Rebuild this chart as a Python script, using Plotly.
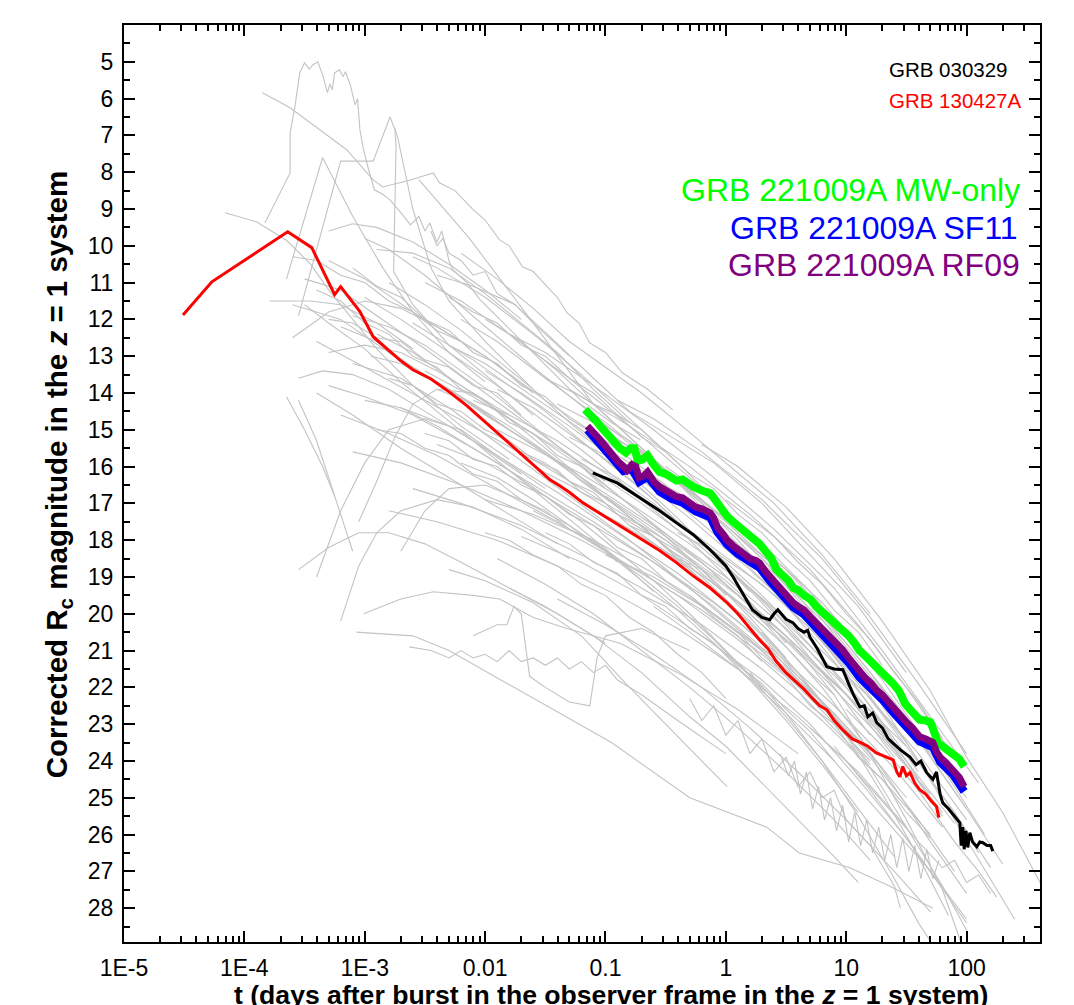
import plotly.graph_objects as go

# ---------------- data: (log10 t [days], corrected Rc magnitude) ----------------
grb130427a = [(-4.51, 11.88), (-4.27, 10.98), (-3.64, 9.62), (-3.44, 10.05), (-3.25, 11.33), (-3.2, 11.11),
              (-3.04, 11.79), (-2.93, 12.47), (-2.71, 13.1), (-2.6, 13.37), (-2.45, 13.62), (-2.29, 13.99),
              (-2.15, 14.35), (-2.02, 14.73), (-1.88, 15.12), (-1.74, 15.54), (-1.6, 15.95), (-1.46, 16.36),
              (-1.38, 16.52), (-1.3, 16.7), (-1.19, 16.98), (-1.08, 17.2), (-0.96, 17.45), (-0.82, 17.72),
              (-0.7, 17.98), (-0.55, 18.28), (-0.41, 18.61), (-0.28, 18.95), (-0.13, 19.3), (0.01, 19.7),
              (0.1, 20.0), (0.2, 20.4), (0.28, 20.71), (0.35, 20.95), (0.42, 21.3), (0.5, 21.6), (0.56, 21.79),
              (0.65, 22.05), (0.72, 22.3), (0.78, 22.5), (0.84, 22.61), (0.9, 22.9), (0.97, 23.15), (1.05, 23.4),
              (1.12, 23.5), (1.18, 23.6), (1.25, 23.78), (1.3, 23.85), (1.39, 23.97), (1.42, 24.3), (1.445, 24.43),
              (1.47, 24.15), (1.5, 24.4), (1.53, 24.32), (1.57, 24.6), (1.61, 24.78), (1.66, 24.9), (1.71, 25.1),
              (1.75, 25.24), (1.77, 25.54)]

grb030329 = [(-1.105, 16.17), (-0.9, 16.45), (-0.69, 16.9), (-0.55, 17.2), (-0.41, 17.53), (-0.27, 17.85),
             (-0.13, 18.26), (0.0, 18.7), (0.06, 19.0), (0.15, 19.5), (0.22, 19.89), (0.3, 20.1), (0.365, 20.16),
             (0.4, 20.0), (0.432, 19.89), (0.5, 20.15), (0.557, 20.24), (0.6, 20.4), (0.65, 20.5), (0.68, 20.45),
             (0.698, 20.63), (0.76, 20.95), (0.8, 21.2), (0.839, 21.44), (0.9, 21.5), (0.972, 21.52), (1.02, 21.9),
             (1.06, 22.2), (1.113, 22.53), (1.15, 22.5), (1.18, 22.8), (1.22, 22.7), (1.254, 22.96), (1.3, 23.1),
             (1.35, 23.4), (1.387, 23.51), (1.45, 23.7), (1.528, 23.89), (1.58, 24.1), (1.62, 24.0), (1.669, 24.32),
             (1.72, 24.5), (1.75, 24.3), (1.78, 24.9), (1.802, 25.14), (1.85, 25.3), (1.9, 25.5), (1.944, 25.68),
             (1.955, 26.3), (1.968, 25.8), (1.98, 26.4), (1.995, 25.9), (2.01, 26.35), (2.027, 25.95), (2.05, 26.2),
             (2.085, 26.33), (2.11, 26.2), (2.135, 26.22), (2.17, 26.3), (2.2, 26.3), (2.218, 26.45)]

grb221009a_mw = [(-1.17, 14.45), (-1.12, 14.6), (-1.08, 14.75), (-1.03, 14.95), (-0.98, 15.15), (-0.93, 15.3),
                 (-0.88, 15.5), (-0.83, 15.62), (-0.79, 15.5), (-0.76, 15.5), (-0.73, 15.85), (-0.69, 15.8),
                 (-0.65, 15.7), (-0.6, 15.95), (-0.55, 16.15), (-0.5, 16.2), (-0.45, 16.3), (-0.41, 16.38),
                 (-0.36, 16.35), (-0.31, 16.5), (-0.27, 16.55), (-0.2, 16.65), (-0.13, 16.72), (-0.1, 16.85),
                 (-0.07, 17.0), (-0.02, 17.2), (0.01, 17.35), (0.06, 17.5), (0.1, 17.6), (0.14, 17.72), (0.2, 17.9),
                 (0.24, 17.95), (0.28, 18.1), (0.33, 18.3), (0.38, 18.5), (0.42, 18.8), (0.47, 18.95), (0.52, 19.1),
                 (0.56, 19.3), (0.6, 19.35), (0.65, 19.5), (0.7, 19.6), (0.75, 19.8), (0.8, 19.95), (0.84, 20.1),
                 (0.88, 20.2), (0.93, 20.3), (0.97, 20.45), (1.02, 20.6), (1.07, 20.8), (1.11, 21.0), (1.16, 21.15),
                 (1.21, 21.3), (1.25, 21.45), (1.3, 21.6), (1.35, 21.75), (1.39, 21.9), (1.44, 22.1), (1.49, 22.45),
                 (1.53, 22.6), (1.57, 22.75), (1.61, 22.88), (1.66, 22.9), (1.7, 22.95), (1.73, 23.2), (1.76, 23.5),
                 (1.8, 23.6), (1.85, 23.7), (1.9, 23.85), (1.94, 23.95), (1.98, 24.15)]

grb221009a_sf11 = [(-1.15, 15.0), (-1.05, 15.38), (-0.96, 15.75), (-0.85, 16.12), (-0.78, 16.07), (-0.72, 16.42),
                   (-0.65, 16.28), (-0.55, 16.68), (-0.45, 16.88), (-0.36, 16.98), (-0.25, 17.22), (-0.13, 17.38),
                   (-0.07, 17.78), (0.01, 18.12), (0.1, 18.38), (0.2, 18.62), (0.28, 18.75), (0.37, 19.13),
                   (0.47, 19.52), (0.56, 19.82), (0.65, 20.02), (0.75, 20.38), (0.84, 20.65), (0.93, 20.98),
                   (1.02, 21.33), (1.11, 21.73), (1.21, 22.03), (1.3, 22.33), (1.39, 22.68), (1.5, 23.08),
                   (1.61, 23.47), (1.72, 23.63), (1.78, 24.03), (1.89, 24.38), (1.98, 24.83)]

grb221009a_rf09 = [(-1.15, 14.9), (-1.1, 15.05), (-1.05, 15.25), (-1.0, 15.45), (-0.96, 15.63), (-0.9, 15.85),
                   (-0.85, 16.0), (-0.82, 16.1), (-0.78, 15.95), (-0.75, 16.0), (-0.72, 16.3), (-0.68, 16.25),
                   (-0.65, 16.15), (-0.6, 16.4), (-0.55, 16.55), (-0.5, 16.65), (-0.45, 16.75), (-0.41, 16.82),
                   (-0.36, 16.85), (-0.3, 17.0), (-0.25, 17.1), (-0.2, 17.15), (-0.13, 17.26), (-0.1, 17.4),
                   (-0.07, 17.65), (-0.02, 17.85), (0.01, 18.0), (0.06, 18.15), (0.1, 18.25), (0.14, 18.34),
                   (0.2, 18.5), (0.25, 18.55), (0.28, 18.62), (0.33, 18.85), (0.37, 19.0), (0.42, 19.2), (0.47, 19.4),
                   (0.52, 19.55), (0.56, 19.7), (0.6, 19.8), (0.65, 19.9), (0.7, 20.08), (0.75, 20.25), (0.8, 20.4),
                   (0.84, 20.52), (0.88, 20.65), (0.93, 20.85), (0.97, 20.98), (1.02, 21.2), (1.07, 21.4),
                   (1.11, 21.6), (1.16, 21.75), (1.21, 21.9), (1.25, 22.07), (1.3, 22.2), (1.35, 22.4), (1.39, 22.55),
                   (1.44, 22.7), (1.5, 22.95), (1.55, 23.1), (1.61, 23.34), (1.66, 23.4), (1.72, 23.5), (1.75, 23.75),
                   (1.78, 23.9), (1.83, 24.05), (1.89, 24.25), (1.94, 24.45), (1.98, 24.7)]

# ---------------- comparison sample (grey) ----------------
gray_bump = [(-3.83, 9.38), (-3.62, 8.02), (-3.62, 6.93), (-3.58, 6.22), (-3.54, 5.3), (-3.5, 5.03), (-3.46, 5.2),
             (-3.43, 5.08), (-3.39, 5.0), (-3.35, 5.35), (-3.31, 5.84), (-3.29, 5.6), (-3.27, 5.76), (-3.25, 5.3),
             (-3.21, 5.22), (-3.18, 5.4), (-3.16, 5.27), (-3.12, 5.63), (-3.08, 6.17), (-3.06, 6.0), (-3.04, 6.85),
             (-3.01, 7.39), (-2.97, 7.9), (-2.92, 8.48), (-2.85, 8.6), (-2.79, 8.75), (-2.7, 9.1), (-2.62, 9.43),
             (-2.55, 9.2), (-2.5, 9.6), (-2.46, 9.38), (-2.4, 9.9), (-2.36, 9.6), (-2.33, 9.97), (-2.3, 10.4),
             (-2.27, 10.65), (-2.15, 11.0), (-2.04, 11.47), (-1.88, 12.0), (-1.71, 12.55), (-1.45, 13.4),
             (-1.21, 14.18), (-0.95, 14.8), (-0.71, 15.27)]
gray_top = [(-3.85, 5.84), (-3.62, 6.25), (-3.43, 6.71), (-3.15, 7.39), (-2.93, 8.21), (-2.85, 8.4), (-2.62, 8.21),
            (-2.43, 8.02), (-2.38, 8.29), (-2.25, 8.5), (-2.1, 9.02), (-2.0, 9.3), (-1.88, 9.84), (-1.8, 10.0),
            (-1.69, 10.57), (-1.6, 10.7), (-1.46, 11.2), (-1.4, 11.4), (-1.32, 11.82), (-1.22, 12.1),
            (-1.13, 12.64), (-1.0, 12.9), (-0.86, 13.45), (-0.65, 13.9), (-0.44, 14.46)]
gray_arch = [(-4.16, 9.1), (-3.9, 9.35), (-3.65, 9.85), (-3.45, 10.5), (-3.3, 11.2), (-3.1, 12.0), (-2.9, 12.8),
             (-2.6, 13.8), (-2.2, 14.9), (-1.8, 15.8)]
gray_tri1 = [(-3.65, 10.9), (-3.35, 7.6), (-3.1, 9.2), (-2.85, 10.6), (-2.6, 11.8), (-2.3, 12.9), (-2.0, 13.7)]
gray_tri2 = [(-3.55, 11.9), (-3.2, 7.7), (-2.93, 7.7), (-2.79, 6.5), (-2.73, 7.0), (-2.6, 9.0), (-2.45, 10.6),
             (-2.3, 11.5), (-2.0, 12.6), (-1.6, 13.9)]
gray_vert = [(-2.75, 6.8), (-2.74, 7.3), (-2.76, 10.7), (-2.6, 11.6), (-2.3, 12.7), (-2.0, 13.5), (-1.6, 14.6)]
gray_line = [(-2.55, 8.2), (-2.13, 9.8), (-1.6, 12.1), (-1.1, 14.3), (-0.6, 15.8), (-0.2, 16.9)]
gray_up1 = [(-2.4, 10.8), (-2.1, 11.1), (-1.75, 11.6), (-1.45, 12.5), (-1.1, 13.6), (-0.8, 14.5), (-0.45, 15.2),
            (-0.1, 15.9), (0.3, 17.0), (0.7, 18.4), (1.1, 19.8), (1.5, 21.6)]
gray_up2 = [(-2.2, 10.2), (-1.9, 10.9), (-1.6, 11.7), (-1.3, 12.6), (-1.0, 13.3), (-0.7, 14.0), (-0.4, 14.8),
            (0.0, 15.9), (0.4, 17.0), (0.8, 18.4), (1.2, 20.0)]
gray_01 = [(-3.6, 11.6), (-3.2, 12.0), (-2.8, 12.9), (-2.3, 13.9), (-1.8, 15.0), (-1.2, 16.3), (-0.6, 17.6),
           (0.0, 19.0), (0.5, 20.4), (1.0, 22.0), (1.5, 23.6)]
gray_02 = [(-3.3, 10.4), (-3.0, 10.9), (-2.6, 11.8), (-2.0, 13.0), (-1.5, 14.2), (-1.0, 15.3), (-0.5, 16.5),
           (0.0, 17.8), (0.4, 19.0), (0.8, 20.5), (1.2, 22.1)]
gray_03 = [(-3.0, 9.8), (-2.8, 10.1), (-2.5, 10.8), (-2.1, 11.9), (-1.6, 13.3), (-1.1, 14.6), (-0.6, 15.9),
           (-0.2, 17.0), (0.3, 18.5), (0.7, 20.0)]
gray_04 = [(-2.9, 12.4), (-2.6, 12.9), (-2.2, 13.8), (-1.7, 14.9), (-1.2, 16.0), (-0.7, 17.3), (-0.2, 18.6),
           (0.3, 20.1), (0.8, 21.7), (1.3, 23.4), (1.7, 24.9)]
gray_05 = [(-3.1, 13.2), (-2.7, 13.6), (-2.3, 14.4), (-1.8, 15.6), (-1.3, 16.8), (-0.8, 18.0), (-0.3, 19.3),
           (0.2, 20.7), (0.7, 22.3), (1.2, 24.0)]
gray_06 = [(-2.5, 11.0), (-2.2, 11.5), (-1.8, 12.4), (-1.3, 13.6), (-0.8, 14.9), (-0.3, 16.3), (0.2, 17.8),
           (0.6, 19.3), (1.0, 21.0), (1.4, 22.8)]
gray_07 = [(-2.2, 12.0), (-1.9, 12.6), (-1.5, 13.6), (-1.0, 14.8), (-0.5, 16.1), (0.0, 17.5), (0.5, 19.0),
           (1.0, 20.8), (1.5, 22.8), (1.9, 24.5)]
gray_08 = [(-2.0, 13.4), (-1.7, 14.0), (-1.3, 14.9), (-0.8, 16.1), (-0.3, 17.4), (0.2, 18.8), (0.7, 20.3),
           (1.2, 22.0), (1.6, 23.6)]
gray_09 = [(-3.4, 12.6), (-3.0, 13.3), (-2.5, 14.2), (-2.0, 15.1), (-1.5, 16.0), (-1.0, 17.0), (-0.5, 18.0),
           (0.0, 19.2), (0.5, 20.6), (1.0, 22.2), (1.4, 23.7)]
gray_10 = [(-2.7, 14.4), (-2.3, 14.9), (-1.9, 15.7), (-1.4, 16.7), (-0.9, 17.8), (-0.4, 18.9), (0.1, 20.2),
           (0.6, 21.7), (1.1, 23.4), (1.5, 25.0)]
gray_11 = [(-1.8, 12.4), (-1.5, 12.9), (-1.1, 13.8), (-0.6, 15.0), (-0.1, 16.3), (0.4, 17.7), (0.9, 19.3),
           (1.3, 21.0), (1.7, 22.8), (2.1, 24.6)]
gray_12 = [(-1.5, 13.6), (-1.2, 14.1), (-0.8, 14.9), (-0.3, 16.0), (0.2, 17.3), (0.7, 18.8), (1.1, 20.3),
           (1.5, 22.0), (1.9, 23.9)]
gray_13 = [(-2.4, 15.4), (-2.0, 15.9), (-1.6, 16.6), (-1.1, 17.6), (-0.6, 18.6), (-0.1, 19.7), (0.4, 21.0),
           (0.9, 22.5), (1.4, 24.2), (1.8, 25.8)]
gray_14 = [(-3.2, 14.6), (-2.8, 15.1), (-2.4, 15.7), (-1.9, 16.6), (-1.4, 17.5), (-0.9, 18.5), (-0.4, 19.5),
           (0.1, 20.7), (0.6, 22.1), (1.1, 23.8)]
gray_15 = [(-1.3, 15.2), (-1.0, 15.7), (-0.6, 16.5), (-0.1, 17.6), (0.4, 18.9), (0.9, 20.5), (1.3, 22.1),
           (1.7, 23.9), (2.0, 25.3)]
gray_16 = [(-0.9, 14.2), (-0.6, 14.7), (-0.2, 15.6), (0.3, 16.9), (0.8, 18.5), (1.2, 20.1), (1.6, 21.9),
           (2.0, 23.8)]
gray_17 = [(-2.6, 16.6), (-2.2, 17.0), (-1.7, 17.6), (-1.2, 18.4), (-0.7, 19.3), (-0.2, 20.3), (0.3, 21.5),
           (0.8, 22.9), (1.3, 24.5), (1.7, 26.0)]
gray_18 = [(-3.0, 11.4), (-2.7, 12.0), (-2.3, 12.9), (-1.9, 13.8), (-1.5, 14.8), (-1.1, 15.8), (-0.7, 16.9),
           (-0.3, 18.0), (0.1, 19.3), (0.5, 20.8)]
gray_19 = [(-2.1, 14.2), (-1.8, 14.6), (-1.4, 15.3), (-0.9, 16.4), (-0.4, 17.5), (0.1, 18.7), (0.6, 20.0),
           (1.1, 21.6), (1.6, 23.4), (2.0, 25.0)]
gray_20 = [(-1.6, 16.0), (-1.3, 16.5), (-0.9, 17.3), (-0.4, 18.3), (0.1, 19.5), (0.6, 20.9), (1.1, 22.5),
           (1.5, 24.0), (1.9, 25.7)]
gray_21 = [(-3.5, 10.9), (-3.2, 11.2), (-2.9, 11.9), (-2.5, 12.8), (-2.0, 14.0), (-1.5, 15.2), (-1.0, 16.4)]
gray_22 = [(-3.3, 13.8), (-3.0, 14.1), (-2.6, 14.6), (-2.1, 15.5), (-1.6, 16.5), (-1.1, 17.5), (-0.6, 18.6),
           (-0.1, 19.8), (0.4, 21.2)]
gray_23 = [(-2.3, 12.7), (-2.0, 13.2), (-1.6, 14.1), (-1.2, 15.0), (-0.8, 16.0), (-0.4, 17.0), (0.0, 18.1),
           (0.4, 19.4), (0.8, 20.9), (1.2, 22.5), (1.6, 24.3)]
gray_24 = [(-1.9, 15.0), (-1.6, 15.5), (-1.2, 16.2), (-0.8, 17.0), (-0.3, 18.1), (0.2, 19.3), (0.7, 20.7),
           (1.2, 22.3), (1.6, 23.8), (2.0, 25.6)]
gray_25 = [(-1.2, 17.0), (-0.9, 17.5), (-0.5, 18.3), (0.0, 19.4), (0.5, 20.7), (1.0, 22.2), (1.4, 23.7),
           (1.8, 25.4)]
gray_26 = [(-2.8, 17.2), (-2.4, 17.5), (-1.9, 18.0), (-1.4, 18.7), (-0.9, 19.5), (-0.4, 20.4), (0.1, 21.5),
           (0.6, 22.8), (1.1, 24.3), (1.5, 25.8)]
gray_27 = [(-0.7, 16.2), (-0.4, 16.7), (0.0, 17.6), (0.4, 18.7), (0.8, 20.0), (1.2, 21.6), (1.6, 23.4),
           (2.0, 25.3), (2.3, 26.8)]
gray_28 = [(-1.4, 14.3), (-1.1, 14.8), (-0.7, 15.7), (-0.2, 16.9), (0.3, 18.2), (0.8, 19.7), (1.2, 21.2),
           (1.6, 22.9)]
gray_29 = [(-2.5, 13.4), (-2.1, 14.1), (-1.7, 14.9), (-1.2, 15.9), (-0.7, 17.0), (-0.2, 18.2), (0.3, 19.6),
           (0.8, 21.2), (1.3, 23.0)]
gray_30 = [(-3.1, 15.6), (-2.7, 15.9), (-2.2, 16.5), (-1.7, 17.2), (-1.2, 18.0), (-0.7, 18.9), (-0.2, 19.9),
           (0.3, 21.1), (0.8, 22.5), (1.2, 23.8)]
gray_31 = [(-0.4, 17.8), (-0.1, 18.3), (0.3, 19.2), (0.7, 20.4), (1.1, 21.9), (1.5, 23.6), (1.9, 25.4),
           (2.2, 26.9)]
gray_32 = [(-1.0, 18.4), (-0.6, 19.0), (-0.2, 19.8), (0.3, 21.0), (0.8, 22.4), (1.2, 23.9), (1.6, 25.6),
           (1.9, 27.0)]
gray_33 = [(-2.0, 16.9), (-1.6, 17.3), (-1.1, 18.0), (-0.6, 18.9), (-0.1, 20.0), (0.4, 21.2), (0.9, 22.7),
           (1.3, 24.2)]
gray_34 = [(-3.4, 14.0), (-3.1, 14.6), (-2.7, 15.5), (-2.3, 16.3), (-1.9, 17.1), (-1.4, 18.1)]
gray_35 = [(-2.6, 10.3), (-2.4, 10.6), (-2.0, 11.4), (-1.6, 12.4), (-1.2, 13.5), (-0.8, 14.7), (-0.4, 15.9),
           (0.0, 17.2), (0.4, 18.6)]
gray_36 = [(-0.2, 15.4), (0.1, 16.0), (0.5, 17.1), (0.9, 18.5), (1.3, 20.2), (1.7, 22.1), (2.0, 23.9),
           (2.3, 25.4), (2.61, 27.3)]
gray_37 = [(-1.0, 16.8), (-0.5, 17.9), (0.0, 19.1), (0.5, 20.6), (0.9, 22.2), (1.2, 23.8), (1.5, 25.6),
           (1.8, 27.5), (1.95, 28.9)]
gray_38 = [(-0.8, 17.6), (-0.3, 18.8), (0.2, 20.2), (0.6, 21.6), (1.0, 23.3), (1.3, 24.9), (1.6, 26.6),
           (1.85, 28.2)]
gray_39 = [(-1.7, 17.9), (-1.2, 18.6), (-0.7, 19.5), (-0.2, 20.6), (0.3, 21.8), (0.7, 23.0), (1.1, 24.5),
           (1.5, 26.1), (1.7, 27.0)]
gray_40 = [(-1.9, 18.5), (-1.5, 19.2), (-1.1, 20.0), (-0.7, 21.0), (-0.3, 22.0), (0.1, 23.1), (0.5, 24.3),
           (0.9, 25.6), (1.2, 26.7)]
gray_41 = [(-1.4, 19.6), (-1.0, 20.3), (-0.6, 21.1), (-0.2, 22.0), (0.2, 23.1), (0.6, 24.3), (1.0, 25.6),
           (1.4, 27.0), (1.7, 28.1)]
gray_42 = [(-0.6, 19.8), (-0.3, 20.5), (0.1, 21.5), (0.5, 22.7), (0.9, 24.0), (1.3, 25.5), (1.7, 27.0),
           (2.0, 28.3)]
gray_43 = [(-2.3, 18.8), (-2.0, 19.1), (-1.6, 19.7), (-1.2, 20.6), (-0.83, 21.9), (-0.5, 23.0), (-0.2, 24.0),
           (0.01, 24.7)]
gray_44 = [(-1.8, 19.3), (-1.5, 19.8), (-1.1, 20.6), (-0.7, 21.6), (-0.3, 22.8), (0.0, 23.6), (0.3, 24.6),
           (0.6, 25.6), (0.9, 26.6), (1.1, 27.3)]
gray_45 = [(-0.3, 22.3), (-0.2, 22.9), (-0.1, 22.5), (0.0, 23.3), (0.1, 22.9), (0.2, 23.8), (0.3, 23.4),
           (0.4, 24.3), (0.5, 23.9), (0.6, 24.7), (0.7, 24.3), (0.8, 25.0), (0.9, 24.8), (1.0, 25.6), (1.2, 26.3),
           (1.4, 27.4), (1.45, 28.0)]
gray_46 = [(0.2, 21.6), (0.5, 22.7), (0.8, 24.0), (1.1, 25.5), (1.4, 27.2), (1.6, 28.4), (1.7, 28.9)]
gray_47 = [(0.9, 23.6), (1.2, 24.8), (1.5, 26.1), (1.8, 27.5), (2.0, 28.4)]
gray_48 = [(1.0, 22.6), (1.3, 23.6), (1.6, 24.8), (1.9, 26.2), (2.1, 27.0), (2.25, 27.7)]
gray_49 = [(0.7, 23.1), (1.0, 24.0), (1.3, 25.1), (1.6, 26.2), (1.8, 26.9), (1.9, 26.7), (2.0, 27.3),
           (2.1, 27.1), (2.2, 27.6)]
gray_50 = [(0.3, 20.5), (0.6, 21.6), (0.9, 22.8), (1.2, 24.2), (1.5, 25.8), (1.8, 27.4), (2.0, 28.6)]
gray_51 = [(-3.79, 11.5), (-3.45, 11.5), (-3.2, 11.6), (-2.9, 12.1), (-2.6, 12.8)]
gray_52 = [(-3.55, 13.6), (-3.35, 13.4), (-3.1, 13.5), (-2.8, 13.9), (-2.5, 14.5), (-2.1, 15.3), (-1.7, 16.2)]
gray_53 = [(-3.65, 14.1), (-3.5, 15.0), (-3.35, 16.0), (-3.25, 16.8)]
gray_54 = [(-3.55, 14.2), (-3.4, 15.3), (-3.25, 16.8), (-3.1, 18.3)]
gray_55 = [(-3.4, 19.0), (-3.2, 17.2), (-3.0, 15.9), (-2.8, 15.0), (-2.5, 14.7), (-2.2, 15.0), (-1.9, 15.7),
           (-1.5, 16.6)]
gray_56 = [(-3.2, 20.2), (-3.05, 18.7), (-2.9, 17.8), (-2.7, 17.2), (-2.4, 16.9), (-2.1, 17.1), (-1.7, 17.7),
           (-1.3, 18.5)]
gray_57 = [(-3.05, 17.5), (-2.9, 16.4), (-2.75, 15.2), (-2.6, 14.3), (-2.4, 13.9), (-2.1, 14.0), (-1.8, 14.6)]
gray_58 = [(-2.7, 18.3), (-2.5, 17.2), (-2.3, 16.6), (-2.0, 16.5), (-1.7, 16.9), (-1.3, 17.6), (-0.9, 18.5)]
gray_59 = [(-3.3, 9.6), (-3.1, 9.4), (-2.9, 9.5), (-2.6, 9.9), (-2.3, 10.5), (-2.0, 11.2), (-1.7, 12.0)]
gray_60 = [(-3.6, 12.5), (-3.3, 11.8), (-3.0, 11.5), (-2.7, 11.7), (-2.4, 12.2), (-2.0, 13.0), (-1.6, 14.0)]
gray_61 = [(-2.9, 10.1), (-2.6, 10.2), (-2.3, 10.6), (-2.0, 11.3), (-1.7, 12.1), (-1.4, 12.9), (-1.1, 13.9),
           (-0.8, 14.8)]
gray_62 = [(-2.45, 9.6), (-2.4, 10.0), (-2.35, 9.8), (-2.3, 10.2), (-2.2, 10.4), (-2.1, 10.8), (-2.0, 10.7),
           (-1.9, 11.3), (-1.75, 11.6), (-1.6, 12.1), (-1.3, 13.0)]
gray_63 = [(-3.2, 12.2), (-2.9, 12.6), (-2.6, 13.3), (-2.3, 13.9), (-2.0, 14.6), (-1.7, 15.2), (-1.4, 15.9),
           (-1.1, 16.6), (-0.8, 17.3), (-0.5, 18.0), (-0.2, 18.8), (0.1, 19.7), (0.4, 20.6)]
gray_64 = [(-2.95, 13.0), (-2.7, 13.2), (-2.4, 13.7), (-2.1, 14.3), (-1.8, 15.0), (-1.5, 15.6), (-1.2, 16.4),
           (-0.9, 17.1), (-0.6, 17.9), (-0.3, 18.7), (0.0, 19.6), (0.3, 20.6), (0.6, 21.7), (0.9, 22.8)]
gray_65 = [(-3.1, 11.9), (-2.8, 12.2), (-2.5, 12.7), (-2.2, 13.4), (-1.9, 14.1), (-1.6, 14.9), (-1.3, 15.7),
           (-1.0, 16.5), (-0.7, 17.3), (-0.4, 18.2), (-0.1, 19.1), (0.2, 20.1), (0.5, 21.2)]
gray_66 = [(-2.6, 12.1), (-2.4, 12.5), (-2.1, 13.1), (-1.8, 13.8), (-1.5, 14.5), (-1.2, 15.3), (-0.9, 16.1),
           (-0.6, 16.9), (-0.3, 17.8), (0.0, 18.7), (0.3, 19.7), (0.6, 20.8), (0.9, 22.0), (1.2, 23.3)]
gray_67 = [(-2.4, 13.9), (-2.1, 14.3), (-1.8, 14.9), (-1.5, 15.6), (-1.2, 16.3), (-0.9, 17.1), (-0.6, 17.9),
           (-0.3, 18.8), (0.0, 19.7), (0.3, 20.7), (0.6, 21.8), (0.9, 22.9), (1.2, 24.1)]
gray_68 = [(-1.9, 13.9), (-1.6, 14.4), (-1.3, 15.1), (-1.0, 15.8), (-0.7, 16.6), (-0.4, 17.5), (-0.1, 18.4),
           (0.2, 19.3), (0.5, 20.3), (0.8, 21.4), (1.1, 22.6), (1.4, 23.9)]
gray_69 = [(-1.2, 15.8), (-0.9, 16.3), (-0.6, 17.0), (-0.3, 17.8), (0.0, 18.6), (0.3, 19.5), (0.6, 20.5),
           (0.9, 21.6), (1.2, 22.8), (1.5, 24.1), (1.8, 25.5)]
gray_70 = [(-3.3, 12.9), (-3.0, 12.7), (-2.7, 12.9), (-2.4, 13.4), (-2.1, 14.0), (-1.8, 14.7), (-1.5, 15.5),
           (-1.2, 16.3), (-0.9, 17.1)]
gray_71 = [(-2.8, 11.0), (-2.5, 11.6), (-2.2, 12.3), (-1.9, 13.1), (-1.6, 13.9), (-1.3, 14.8), (-1.0, 15.6),
           (-0.7, 16.5), (-0.4, 17.4), (-0.1, 18.4), (0.2, 19.4)]
gray_72 = [(-0.5, 16.0), (-0.2, 16.7), (0.1, 17.5), (0.4, 18.4), (0.7, 19.4), (1.0, 20.6), (1.3, 21.8),
           (1.6, 23.2), (1.9, 24.7), (2.15, 26.0)]
gray_73 = [(-2.2, 15.9), (-1.9, 16.3), (-1.6, 16.9), (-1.3, 17.6), (-1.0, 18.3), (-0.7, 19.1), (-0.4, 19.9),
           (-0.1, 20.8), (0.2, 21.8), (0.5, 22.9), (0.8, 24.1), (1.1, 25.4)]
gray_74 = [(-1.6, 17.2), (-1.3, 17.7), (-1.0, 18.3), (-0.7, 19.0), (-0.4, 19.8), (-0.1, 20.7), (0.2, 21.7),
           (0.5, 22.8), (0.8, 24.0), (1.1, 25.3), (1.4, 26.6)]
gray_75 = [(-3.5, 11.6), (-3.3, 12.1), (-3.0, 12.8), (-2.7, 13.7), (-2.4, 14.5), (-2.1, 15.3), (-1.8, 16.1),
           (-1.5, 16.9), (-1.2, 17.7), (-0.9, 18.5), (-0.6, 19.4)]
gray_76 = [(-0.1, 18.9), (0.2, 19.8), (0.5, 20.9), (0.8, 22.0), (1.1, 23.3), (1.4, 24.7), (1.7, 26.2),
           (2.0, 27.6)]
gray_77 = [(0.1, 17.9), (0.4, 18.8), (0.7, 19.9), (1.0, 21.1), (1.3, 22.5), (1.6, 24.0), (1.9, 25.6),
           (2.2, 27.2), (2.4, 28.3)]
gray_78 = [(-1.1, 14.7), (-0.8, 15.3), (-0.5, 16.1), (-0.2, 17.0), (0.1, 18.0), (0.4, 19.1), (0.7, 20.3),
           (1.0, 21.6), (1.3, 23.0), (1.6, 24.5)]
gray_79 = [(-2.0, 12.0), (-1.7, 12.6), (-1.4, 13.4), (-1.1, 14.3), (-0.8, 15.2), (-0.5, 16.1), (-0.2, 17.1),
           (0.1, 18.2), (0.4, 19.3)]
gray_80 = [(-3.0, 14.2), (-2.7, 14.4), (-2.4, 14.9), (-2.1, 15.5), (-1.8, 16.1), (-1.5, 16.8), (-1.2, 17.5),
           (-0.9, 18.3), (-0.6, 19.1), (-0.3, 20.0), (0.0, 21.0), (0.3, 22.0)]
gray_81 = [(-3.4, 11.2), (-3.2, 11.5), (-3.0, 12.1), (-2.8, 12.4), (-2.6, 13.0), (-2.4, 13.3), (-2.2, 13.9),
           (-2.0, 14.2), (-1.8, 14.8), (-1.6, 15.1), (-1.4, 15.7), (-1.2, 16.0), (-1.0, 16.6)]
gray_82 = [(-3.1, 10.6), (-2.9, 11.1), (-2.7, 11.4), (-2.5, 12.0), (-2.3, 12.3), (-2.1, 12.9), (-1.9, 13.2),
           (-1.7, 13.8), (-1.5, 14.1), (-1.3, 14.7), (-1.1, 15.1), (-0.9, 15.7), (-0.7, 16.1), (-0.5, 16.7)]
gray_83 = [(-2.8, 13.6), (-2.6, 13.8), (-2.4, 14.3), (-2.2, 14.5), (-2.0, 15.0), (-1.8, 15.3), (-1.6, 15.8),
           (-1.4, 16.1), (-1.2, 16.7), (-1.0, 17.0), (-0.8, 17.6), (-0.6, 17.9), (-0.4, 18.5), (-0.2, 18.8),
           (0.0, 19.5)]
gray_84 = [(-1.3, 13.9), (-1.1, 14.3), (-0.9, 14.6), (-0.7, 15.2), (-0.5, 15.6), (-0.3, 16.2), (-0.1, 16.6),
           (0.1, 17.3), (0.3, 17.8), (0.5, 18.5), (0.7, 19.1), (0.9, 19.9), (1.1, 20.5), (1.3, 21.4)]
gray_85 = [(-0.9, 15.3), (-0.7, 15.6), (-0.5, 16.2), (-0.3, 16.6), (-0.1, 17.2), (0.1, 17.6), (0.3, 18.3),
           (0.5, 18.8), (0.7, 19.5), (0.9, 20.1), (1.1, 20.9), (1.3, 21.5), (1.5, 22.4), (1.7, 23.1)]
gray_86 = [(-2.5, 15.1), (-2.3, 15.3), (-2.1, 15.8), (-1.9, 16.0), (-1.7, 16.5), (-1.5, 16.8), (-1.3, 17.3),
           (-1.1, 17.6), (-0.9, 18.2), (-0.7, 18.5), (-0.5, 19.1), (-0.3, 19.5), (-0.1, 20.1), (0.1, 20.6),
           (0.3, 21.3)]
gray_87 = [(-1.7, 15.6), (-1.5, 15.9), (-1.3, 16.4), (-1.1, 16.7), (-0.9, 17.3), (-0.7, 17.6), (-0.5, 18.2),
           (-0.3, 18.6), (-0.1, 19.2), (0.1, 19.7), (0.3, 20.3), (0.5, 20.9), (0.7, 21.6), (0.9, 22.2)]
gray_88 = [(-3.3, 12.0), (-3.1, 12.1), (-2.9, 12.5), (-2.7, 12.6), (-2.5, 13.1), (-2.3, 13.3), (-2.1, 13.8),
           (-1.9, 14.0), (-1.7, 14.6)]
gray_89 = [(-0.3, 19.5), (-0.1, 20.0), (0.1, 20.5), (0.3, 21.2), (0.5, 21.7), (0.7, 22.5), (0.9, 23.0),
           (1.1, 23.9), (1.3, 24.5), (1.5, 25.4), (1.7, 26.1)]
gray_90 = [(0.0, 16.9), (0.2, 17.4), (0.4, 17.9), (0.6, 18.6), (0.8, 19.2), (1.0, 20.0), (1.2, 20.7),
           (1.4, 21.6), (1.6, 22.4), (1.8, 23.4)]
gray_91 = [(-2.3, 11.4), (-2.1, 11.8), (-1.9, 12.1), (-1.7, 12.7), (-1.5, 13.0), (-1.3, 13.6), (-1.1, 14.0),
           (-0.9, 14.6), (-0.7, 15.0), (-0.5, 15.6)]
gray_92 = [(-1.5, 17.8), (-1.3, 18.1), (-1.1, 18.6), (-0.9, 18.9), (-0.7, 19.5), (-0.5, 19.8), (-0.3, 20.4),
           (-0.1, 20.8), (0.1, 21.4), (0.3, 21.9), (0.5, 22.6), (0.7, 23.2), (0.9, 24.0)]
gray_93 = [(-2.9, 15.0), (-2.7, 15.1), (-2.5, 15.5), (-2.3, 15.7), (-2.1, 16.2), (-1.9, 16.4), (-1.7, 16.9),
           (-1.5, 17.2), (-1.3, 17.7), (-1.1, 18.0), (-0.9, 18.6)]
gray_94 = [(0.5, 19.8), (0.7, 20.4), (0.9, 21.1), (1.1, 21.8), (1.3, 22.7), (1.5, 23.5), (1.7, 24.5),
           (1.9, 25.4), (2.1, 26.5)]
gray_95 = [(-2.0, 17.8), (-1.8, 18.0), (-1.6, 18.4), (-1.4, 18.7), (-1.2, 19.2), (-1.0, 19.5), (-0.8, 20.1),
           (-0.6, 20.5), (-0.4, 21.1), (-0.2, 21.6), (0.0, 22.3)]
gray_96 = [(-3.6, 10.3), (-3.4, 10.4), (-3.2, 10.8), (-3.0, 11.0), (-2.8, 11.5), (-2.6, 11.8), (-2.4, 12.3),
           (-2.2, 12.6)]
gray_low1 = [(-3.07, 20.5), (-2.6, 20.6), (-2.3, 21.0), (-1.6, 22.3), (-0.95, 23.5), (-0.3, 25.0), (0.34, 25.8),
             (0.61, 26.5), (1.03, 26.9), (1.36, 27.4), (1.72, 28.0)]
gray_low2 = [(-2.63, 20.9), (-2.45, 21.0), (-2.3, 21.2), (-2.2, 21.0), (-2.1, 21.2), (-2.0, 21.1), (-1.9, 21.3),
             (-1.8, 21.0), (-1.7, 21.3), (-1.6, 21.2), (-1.5, 21.4), (-1.4, 21.2), (-1.3, 21.5), (-1.2, 21.3),
             (-1.1, 21.6), (-1.0, 21.4), (-0.9, 21.8), (-0.7, 22.2), (-0.4, 22.9), (0.0, 23.8)]
gray_low3 = [(-3.01, 20.0), (-2.7, 19.6), (-2.43, 19.4), (-2.1, 19.5), (-1.88, 19.6), (-1.6, 20.1), (-1.32, 20.4),
             (-0.88, 20.8), (-0.4, 21.6), (0.1, 22.6), (0.6, 23.8)]
gray_low4 = [(-2.1, 20.6), (-1.9, 20.3), (-1.82, 20.3), (-1.76, 19.8), (-1.7, 20.0), (-1.63, 21.7), (-1.5, 22.0),
             (-1.3, 22.4), (-1.13, 22.5), (-1.07, 21.2), (-1.0, 20.6), (-0.7, 20.4), (-0.3, 21.0)]
gray_low5 = [(-3.55, 18.8), (-3.3, 18.2), (-3.05, 17.8), (-2.8, 17.8), (-2.5, 18.1), (-2.2, 18.6), (-1.8, 19.3),
             (-1.4, 20.0), (-1.0, 20.8)]
gray_noisy = [(0.45, 23.8), (0.52, 24.4), (0.57, 24.0), (0.62, 24.9), (0.67, 24.3), (0.72, 25.3), (0.77, 24.7),
              (0.82, 25.6), (0.87, 25.0), (0.92, 25.9), (0.97, 25.2), (1.02, 26.2), (1.07, 25.4), (1.12, 26.3),
              (1.17, 25.6), (1.22, 26.5), (1.27, 25.8), (1.32, 26.7), (1.37, 26.0), (1.42, 26.9), (1.47, 26.1),
              (1.52, 27.0), (1.57, 26.3), (1.62, 27.2), (1.67, 26.4), (1.72, 27.2), (1.77, 26.7)]

gray_curves = [gray_bump, gray_top, gray_arch, gray_tri1, gray_tri2, gray_vert, gray_line, gray_up1, gray_up2,
               gray_01, gray_02, gray_03, gray_04, gray_05, gray_06, gray_07, gray_08, gray_09, gray_10,
               gray_11, gray_12, gray_13, gray_14, gray_15, gray_16, gray_17, gray_18, gray_19, gray_20,
               gray_21, gray_22, gray_23, gray_24, gray_25, gray_26, gray_27, gray_28, gray_29, gray_30,
               gray_31, gray_32, gray_33, gray_34, gray_35, gray_36, gray_37, gray_38, gray_39, gray_40,
               gray_41, gray_42, gray_43, gray_44, gray_45, gray_46, gray_47, gray_48, gray_49, gray_50,
               gray_51, gray_52, gray_53, gray_54, gray_55, gray_56, gray_57, gray_58, gray_59, gray_60,
               gray_61, gray_62, gray_63, gray_64, gray_65, gray_66, gray_67, gray_68, gray_69, gray_70,
               gray_71, gray_72, gray_73, gray_74, gray_75, gray_76, gray_77, gray_78, gray_79, gray_80,
               gray_81, gray_82, gray_83, gray_84, gray_85, gray_86, gray_87, gray_88, gray_89, gray_90,
               gray_91, gray_92, gray_93, gray_94, gray_95, gray_96,
               gray_low1, gray_low2, gray_low3, gray_low4, gray_low5, gray_noisy]

x_tick_vals = [1e-5, 1e-4, 1e-3, 1e-2, 1e-1, 1, 10, 100]
x_tick_text = ["1E-5", "1E-4", "1E-3", "0.01", "0.1", "1", "10", "100"]
y_tick_vals = list(range(5, 29))

FONT = "Arial, Liberation Sans, sans-serif"


def xy(curve):
    return [10 ** p[0] for p in curve], [p[1] for p in curve]


fig = go.Figure()
for c in gray_curves:
    x, y = xy(c)
    fig.add_trace(go.Scatter(x=x, y=y, mode="lines", line=dict(color="#C3C3C3", width=1.1),
                             hoverinfo="skip", showlegend=False))

for curve, color, width in [(grb130427a, "#FF0000", 3), (grb030329, "#000000", 3),
                            (grb221009a_mw, "#00FF00", 8), (grb221009a_sf11, "#0000FF", 8),
                            (grb221009a_rf09, "#800080", 7)]:
    x, y = xy(curve)
    fig.add_trace(go.Scatter(x=x, y=y, mode="lines", line=dict(color=color, width=width),
                             showlegend=False))

minor_x = [k * 10 ** e for e in range(-5, 3) for k in range(2, 10)]
minor_y = [v + 0.5 for v in range(4, 29)]

axis_common = dict(showline=True, linewidth=2, linecolor="black", mirror="allticks", ticks="inside",
                   ticklen=11, tickwidth=2, tickcolor="black", showgrid=False, zeroline=False,
                   tickfont=dict(family=FONT, size=23, color="black"))

fig.update_xaxes(type="log", range=[-5, 2.61], tickvals=x_tick_vals, ticktext=x_tick_text,
                 minor=dict(tickvals=minor_x, ticks="inside", ticklen=6, tickwidth=2, tickcolor="black",
                            showgrid=False),
                 ticklabelstandoff=4, **axis_common)
fig.update_yaxes(range=[28.92, 4.0], tickvals=y_tick_vals,
                 minor=dict(tickvals=minor_y, ticks="inside", ticklen=6, tickwidth=2, tickcolor="black",
                            showgrid=False),
                 ticklabelstandoff=4, **axis_common)

annotations = [
    dict(text="GRB 030329", x=0.833, y=0.951, xanchor="left", yanchor="middle",
         font=dict(family=FONT, size=20.5, color="black")),
    dict(text="GRB 130427A", x=0.833, y=0.918, xanchor="left", yanchor="middle",
         font=dict(family=FONT, size=20.5, color="#FF0000")),
    dict(text="GRB 221009A MW-only", x=0.980, y=0.820, xanchor="right", yanchor="middle",
         font=dict(family=FONT, size=32, color="#00FF00")),
    dict(text="GRB 221009A SF11", x=0.978, y=0.779, xanchor="right", yanchor="middle",
         font=dict(family=FONT, size=32, color="#0000FF")),
    dict(text="GRB 221009A RF09", x=0.980, y=0.738, xanchor="right", yanchor="middle",
         font=dict(family=FONT, size=32, color="#800080")),
    dict(text="<b>Corrected R<sub>c</sub> magnitude in the <i>z</i> = 1 system</b>", x=-0.072, y=0.509,
         textangle=-90, xanchor="center", yanchor="middle",
         font=dict(family=FONT, size=29.5, color="black")),
    dict(text="<b>t (days after burst in the observer frame in the <i>z</i> = 1 system)</b>", x=0.532, y=-0.058,
         xanchor="center", yanchor="middle", font=dict(family=FONT, size=26.6, color="black")),
]
for a in annotations:
    a.update(xref="paper", yref="paper", showarrow=False)

fig.update_layout(
    width=1074, height=1005,
    margin=dict(l=116, r=42, t=17, b=71),
    paper_bgcolor="white", plot_bgcolor="white",
    annotations=annotations,
    showlegend=False,
)

fig.write_html("out.html")
